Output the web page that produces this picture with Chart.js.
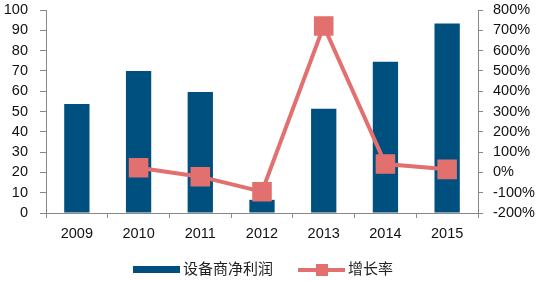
<!DOCTYPE html>
<html>
<head>
<meta charset="utf-8">
<script src="https://cdn.jsdelivr.net/npm/chart.js@4.4.0/dist/chart.umd.min.js"></script>
<style>
  html, body { margin: 0; padding: 0; background: #fff; }
  #wrap { position: relative; width: 542px; height: 281px; }
  #legend { position: absolute; left: 0; top: 260px; width: 542px; height: 18px;
    font-family: "Noto Sans CJK SC", sans-serif; font-size: 15px; color: #222; }
  .item { position: absolute; top: 0; height: 18px; line-height: 18px; white-space: nowrap; }
  .sw { position: absolute; }
</style>
</head>
<body>
<div id="wrap">
  <canvas id="mainChart" width="542" height="281"></canvas>
  <div id="legend">
    <div class="item" style="left:133px;">
      <span class="sw" style="left:0;top:6px;width:47px;height:7px;background:#00507f;"></span>
      <span style="position:absolute;left:50px;top:-1px;">设备商净利润</span>
    </div>
    <div class="item" style="left:298px;">
      <span class="sw" style="left:0;top:8px;width:47px;height:4px;background:#e2706f;"></span>
      <span class="sw" style="left:18px;top:4px;width:12px;height:12px;background:#e2706f;"></span>
      <span style="position:absolute;left:50px;top:-1px;">增长率</span>
    </div>
  </div>
</div>
<script>
const years = ["2009", "2010", "2011", "2012", "2013", "2014", "2015"];
const netProfit = [53.7, 70, 59.6, 6.5, 51.4, 74.5, 93.4];
const growthRate = [null, 23, -21, -95, 721, 41, 15];

const axisColor = "#888";
const textColor = "#111";
const tickFont = { family: "Liberation Sans, Arial, sans-serif", size: 14.5 };

// keep the y axes from pushing the plot area down
function fixY(width) {
  return s => {
    s.width = width;
    s.paddingTop = 0;
    s.paddingBottom = 0;
  };
}

const ctx = document.getElementById("mainChart").getContext("2d");

new Chart(ctx, {
  type: "bar",
  data: {
    labels: years,
    datasets: [
      {
        type: "line",
        label: "增长率",
        data: growthRate,
        yAxisID: "y1",
        borderColor: "#e2706f",
        backgroundColor: "#e2706f",
        borderWidth: 4,
        pointStyle: "rect",
        pointRadius: 11,
        pointHoverRadius: 11,
        tension: 0,
        clip: false,
        order: 0
      },
      {
        label: "设备商净利润",
        data: netProfit,
        yAxisID: "y",
        backgroundColor: "#00507f",
        categoryPercentage: 1,
        barPercentage: 0.41,
        order: 1
      }
    ]
  },
  options: {
    responsive: false,
    animation: false,
    layout: { autoPadding: false, padding: { top: 10, bottom: 38, left: 0, right: 0 } },
    plugins: {
      legend: { display: false },
      tooltip: { enabled: false }
    },
    scales: {
      x: {
        grid: { drawOnChartArea: false, tickLength: 5, color: axisColor },
        border: { color: axisColor },
        ticks: { color: textColor, font: tickFont, padding: 7 },
        afterFit: s => { s.height = 30; }
      },
      y: {
        position: "left",
        min: 0,
        max: 100,
        grid: { drawOnChartArea: false, tickLength: 6, color: axisColor },
        border: { color: axisColor },
        ticks: { stepSize: 10, autoSkip: false, color: textColor, font: tickFont, padding: 12 },
        afterFit: fixY(46)
      },
      y1: {
        position: "right",
        min: -200,
        max: 800,
        grid: { drawOnChartArea: false, tickLength: 5, color: axisColor },
        border: { color: axisColor },
        ticks: {
          stepSize: 100,
          autoSkip: false,
          color: textColor,
          font: tickFont,
          padding: 10,
          callback: v => v + "%"
        },
        afterFit: fixY(64)
      }
    }
  }
});
</script>
</body>
</html>
